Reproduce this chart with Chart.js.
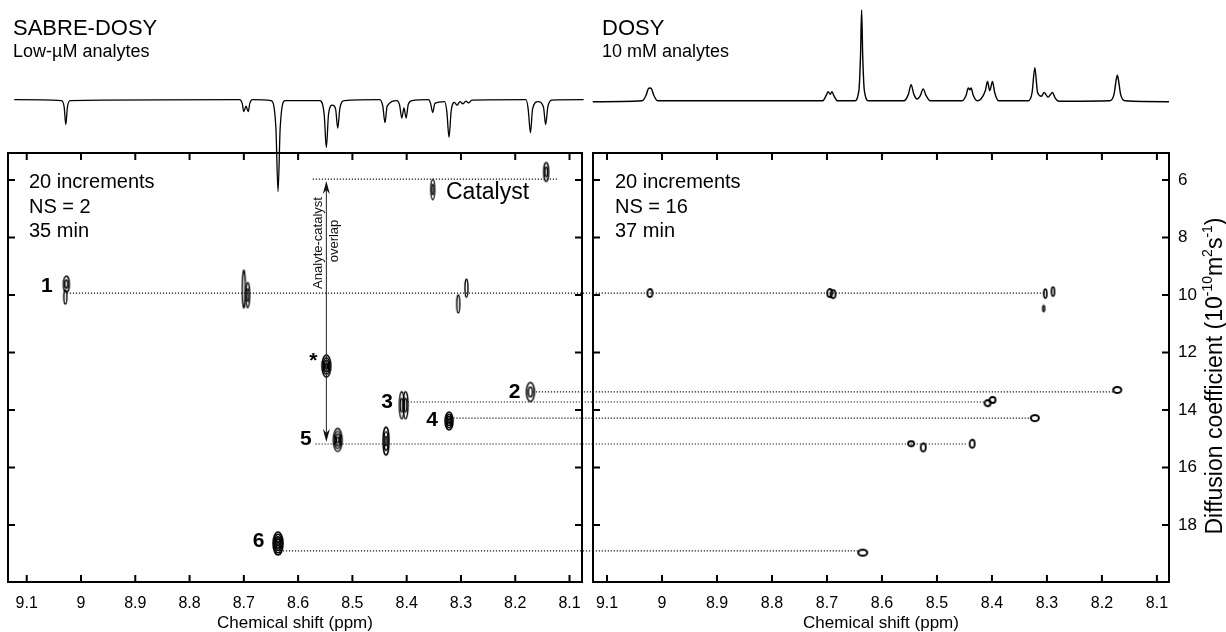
<!DOCTYPE html>
<html>
<head>
<meta charset="utf-8">
<script src="https://cdn.jsdelivr.net/npm/chart.js@4.4.1/dist/chart.umd.min.js"></script>
<style>
  body { margin: 0; background: #fff; }
  #wrap { position: relative; width: 1226px; height: 632px; }
  #wrap canvas { position: absolute; left: 0; top: 0; }
</style>
</head>
<body>
<div id="wrap">
  <canvas id="dosyL" width="1226" height="632"></canvas>
  <canvas id="dosyR" width="1226" height="632"></canvas>
  <canvas id="specL" width="1226" height="632"></canvas>
  <canvas id="specR" width="1226" height="632"></canvas>
</div>
<script>
// axis ticks
const ppmTicks = [9.1, 9, 8.9, 8.8, 8.7, 8.6, 8.5, 8.4, 8.3, 8.2, 8.1];
const diffTicks = [6, 8, 10, 12, 14, 16, 18];

// 1D traces above the panels (ppm, relative intensity)
const sabrePpm = [9.123, 9.036, 9.031, 9.028, 9.025, 9.020, 8.708, 8.703, 8.700, 8.696, 8.692, 8.689, 8.684,
  8.650, 8.641, 8.637, 8.633, 8.624, 8.560, 8.552, 8.548, 8.544, 8.537, 8.531, 8.527, 8.523, 8.515,
  8.450, 8.444, 8.440, 8.436, 8.418, 8.413, 8.409, 8.405, 8.401, 8.397, 8.390, 8.360, 8.356, 8.352, 8.348,
  8.330, 8.326, 8.322, 8.318, 8.312, 8.307, 8.302, 8.296, 8.291, 8.286, 8.280, 8.180, 8.176, 8.172, 8.168,
  8.158, 8.148, 8.144, 8.140, 8.133, 8.074];
const sabreInt = [0, -0.01, -0.08, -0.27, -0.08, -0.01, 0, -0.04, -0.13, -0.07, -0.13, -0.04, 0,
  -0.01, -0.3, -1.0, -0.3, -0.01, -0.01, -0.16, -0.52, -0.16, -0.06, -0.1, -0.31, -0.09, -0.01,
  0, -0.07, -0.25, -0.07, -0.01, -0.06, -0.2, -0.09, -0.2, -0.05, -0.01, 0, -0.04, -0.14, -0.04,
  -0.02, -0.13, -0.41, -0.12, -0.03, -0.06, -0.02, -0.045, -0.015, -0.035, -0.005, 0, -0.11, -0.36, -0.1,
  -0.02, -0.08, -0.27, -0.08, -0.005, 0];

const dosyPpm = [9.126, 9.036, 9.029, 9.025, 9.022, 9.019, 9.015, 9.008, 8.708, 8.702, 8.698, 8.694, 8.691,
  8.687, 8.681, 8.650, 8.642, 8.639, 8.637, 8.635, 8.632, 8.624, 8.560, 8.552, 8.547, 8.542, 8.536, 8.530,
  8.525, 8.520, 8.512, 8.454, 8.447, 8.443, 8.440, 8.438, 8.434, 8.427, 8.420, 8.412, 8.408, 8.404, 8.399,
  8.395, 8.388, 8.334, 8.327, 8.322, 8.317, 8.310, 8.305, 8.298, 8.290, 8.285, 8.278, 8.186, 8.178, 8.174,
  8.172, 8.170, 8.166, 8.158, 8.078];
const dosyInt = [0, 0.01, 0.07, 0.14, 0.15, 0.14, 0.07, 0.01, 0.01, 0.06, 0.11, 0.08, 0.11,
  0.06, 0.01, 0.01, 0.12, 0.5, 1.0, 0.5, 0.12, 0.01, 0.01, 0.08, 0.185, 0.08, 0.03, 0.07,
  0.14, 0.07, 0.01, 0.01, 0.07, 0.15, 0.13, 0.15, 0.07, 0.01, 0.03, 0.12, 0.22, 0.12, 0.22,
  0.1, 0.01, 0.01, 0.1, 0.37, 0.1, 0.06, 0.1, 0.05, 0.1, 0.04, 0.005, 0.01, 0.08, 0.24,
  0.29, 0.24, 0.08, 0.01, 0];

// cross peaks (ppm, diffusion coefficient)
const sabreSpotPpm = [9.027, 9.029, 8.700, 8.693, 8.305, 8.290, 8.352, 8.143, 8.548, 8.172, 8.409, 8.402, 8.322, 8.527, 8.438, 8.637];
const sabreSpotD = [9.62, 10.07, 9.79, 10.0, 10.31, 9.76, 6.33, 5.72, 12.47, 13.37, 13.83, 13.83, 14.38, 15.04, 15.08, 18.64];
const dosySpotPpm = [9.022, 8.695, 8.689, 8.303, 8.289, 8.306, 8.172, 8.408, 8.399, 8.322, 8.547, 8.525, 8.436, 8.635];
const dosySpotD = [9.93, 9.93, 9.97, 9.95, 9.88, 10.47, 13.30, 13.76, 13.65, 14.28, 15.17, 15.30, 15.17, 18.96];

// dotted guides from the SABRE panel to the DOSY panel
const guideD = [9.93, 13.37, 13.72, 14.28, 15.18, 18.90];
const guideFromPpm = [9.026, 8.162, 8.398, 8.314, 8.568, 8.628];
const guideToPpm = [8.305, 8.180, 8.412, 8.329, 8.445, 8.644];
const catalystD = 5.97;
const catalystFromPpm = 8.573;
const catalystToPpm = 8.120;

// compound labels
const peakLabels = ['1', '*', '2', '3', '4', '5', '6'];
const peakLabelPpm = [9.063, 8.572, 8.201, 8.436, 8.353, 8.586, 8.673];
const peakLabelD = [9.90, 12.50, 13.57, 13.93, 14.56, 15.22, 18.77];

// overlap arrow
const arrowPpm = 8.548;
const arrowFromD = 6.03;
const arrowToD = 15.11;
const overlapTextD = 8.19;

// ---- styles ----
const FONT = "'Liberation Sans', Arial, sans-serif";
Chart.defaults.font.family = FONT;
Chart.defaults.color = '#000';

// [width, height, contour rings, line width]
const spotShapes = {
  k1: [6, 16, 2, 1.4], k1t: [3, 14, 1, 1.4], thin: [3, 38, 1, 1.4], b: [4, 25, 2, 1.3], c: [3, 18, 1, 1.4],
  cat: [4, 20, 2, 1.3], cat2: [5, 19, 2, 1.4], star: [9, 22, 4, 1.5], two: [8, 19, 2, 1.5],
  three: [5, 27, 2, 1.3], four: [8, 18, 4, 1.6], five: [9, 23, 4, 1.3], f2: [6, 28, 3, 1.4], six: [10, 23, 5, 1.6],
  rs: [5, 8, 1, 1.8], rt: [3, 9, 1, 1.7], rd: [2, 6, 1, 1.5], ro: [8, 6, 1, 2], rq: [6, 6, 1, 1.9],
  rp: [6, 5, 1, 1.9], rw: [9, 6, 1, 2]
};
const sabreSpotKind = ['k1', 'k1t', 'thin', 'b', 'c', 'c', 'cat', 'cat2', 'star', 'two', 'three', 'three', 'four', 'five', 'f2', 'six'];
const dosySpotKind = ['rs', 'rs', 'rs', 'rt', 'rt', 'rd', 'ro', 'rq', 'rq', 'ro', 'rp', 'rs', 'rs', 'rw'];

function makeSpot([w, h, rings, lw]) {
  const c = document.createElement('canvas');
  c.width = Math.ceil(w + lw + 2);
  c.height = Math.ceil(h + lw + 2);
  const g = c.getContext('2d');
  g.strokeStyle = '#000';
  g.lineWidth = lw;
  for (let k = rings; k >= 1; k--) {
    g.beginPath();
    g.ellipse(c.width / 2, c.height / 2, Math.max(w / 2 * k / rings, 0.5), Math.max(h / 2 * k / rings, 0.5), 0, 0, Math.PI * 2);
    g.stroke();
  }
  return c;
}
const spotImg = {};
Object.keys(spotShapes).forEach(k => { spotImg[k] = makeSpot(spotShapes[k]); });

function text(ctx, s, x, y, size, bold, align) {
  ctx.font = (bold ? 'bold ' : '') + size + 'px ' + FONT;
  ctx.textAlign = align || 'left';
  ctx.textBaseline = 'alphabetic';
  ctx.fillStyle = '#000';
  ctx.fillText(s, x, y);
}

const framePlugin = {
  id: 'frame',
  afterDatasetsDraw(chart) {
    const { ctx, chartArea: a, scales: { x, y } } = chart;
    ctx.save();
    ctx.strokeStyle = '#000';
    ctx.lineWidth = 2;
    ctx.strokeRect(a.left, a.top, a.right - a.left, a.bottom - a.top);
    ctx.beginPath();
    ppmTicks.forEach(v => {
      const px = x.getPixelForValue(v);
      ctx.moveTo(px, a.top); ctx.lineTo(px, a.top + 7);
      ctx.moveTo(px, a.bottom); ctx.lineTo(px, a.bottom - 7);
    });
    diffTicks.forEach(v => {
      const py = y.getPixelForValue(v);
      ctx.moveTo(a.left, py); ctx.lineTo(a.left + 7, py);
      ctx.moveTo(a.right, py); ctx.lineTo(a.right - 7, py);
    });
    ctx.stroke();
    ctx.restore();
  }
};

function guideSet(points) {
  return {
    data: points, showLine: true, pointRadius: 0, clip: false,
    borderColor: '#111', borderWidth: 1.2, borderDash: [1.2, 1.8]
  };
}

function xScale(min, max) {
  return {
    type: 'linear', reverse: true, min, max,
    afterBuildTicks: s => { s.ticks = ppmTicks.map(v => ({ value: v })); },
    afterFit: s => { s.height = 50; },
    grid: { display: false }, border: { display: false },
    ticks: { padding: 4, font: { size: 16 }, color: '#000', autoSkip: false, maxRotation: 0, callback: v => String(v) },
    title: { display: true, text: 'Chemical shift (ppm)', font: { size: 17 }, color: '#000', padding: { top: 0, bottom: -2 } }
  };
}

const baseOpts = {
  responsive: false, animation: false, events: [],
  plugins: { legend: { display: false }, tooltip: { enabled: false } }
};

// left: SABRE-DOSY panel
const leftSets = guideFromPpm.map((p, i) => guideSet([{ x: p, y: guideD[i] }, { x: 8.0568, y: guideD[i] }]));
leftSets.push(guideSet([{ x: catalystFromPpm, y: catalystD }, { x: catalystToPpm, y: catalystD }]));
leftSets.push({
  data: sabreSpotPpm.map((p, i) => ({ x: p, y: sabreSpotD[i] })),
  pointStyle: sabreSpotKind.map(k => spotImg[k]), pointRadius: 3, clip: false
});

new Chart(document.getElementById('dosyL'), {
  type: 'scatter',
  data: { datasets: leftSets },
  options: {
    ...baseOpts,
    layout: { padding: { left: 8, right: 644, top: 153, bottom: 0 } },
    scales: {
      x: xScale(8.077, 9.1345),
      y: { type: 'linear', reverse: true, min: 5.06, max: 19.98, display: false }
    }
  },
  plugins: [framePlugin, {
    id: 'sabreNotes',
    afterDraw(chart) {
      const { ctx, chartArea: a, scales: { x, y } } = chart;
      ctx.save();
      text(ctx, '20 increments', a.left + 21, a.top + 35, 20);
      text(ctx, 'NS = 2', a.left + 21, a.top + 60, 20);
      text(ctx, '35 min', a.left + 21, a.top + 84, 20);
      text(ctx, 'Catalyst', x.getPixelForValue(8.3276), y.getPixelForValue(6.66), 23);
      peakLabels.forEach((s, i) => {
        text(ctx, s, x.getPixelForValue(peakLabelPpm[i]), y.getPixelForValue(peakLabelD[i]), 21, true, 'center');
      });
      // overlap arrow
      const ax = x.getPixelForValue(arrowPpm);
      const y1 = y.getPixelForValue(arrowFromD);
      const y2 = y.getPixelForValue(arrowToD);
      ctx.strokeStyle = '#222';
      ctx.fillStyle = '#111';
      ctx.lineWidth = 1;
      ctx.beginPath(); ctx.moveTo(ax, y1 + 6); ctx.lineTo(ax, y2 - 6); ctx.stroke();
      const head = (tip, dir) => {
        ctx.beginPath();
        ctx.moveTo(ax, tip);
        ctx.lineTo(ax - 3.5, tip - dir * 13);
        ctx.lineTo(ax, tip - dir * 9);
        ctx.lineTo(ax + 3.5, tip - dir * 13);
        ctx.closePath();
        ctx.fill();
      };
      head(y1, -1);
      head(y2, 1);
      const ty = y.getPixelForValue(overlapTextD);
      ctx.font = '13px ' + FONT;
      ctx.textAlign = 'center';
      ctx.textBaseline = 'middle';
      ctx.save(); ctx.translate(ax - 8, ty); ctx.rotate(-Math.PI / 2); ctx.fillText('Analyte-catalyst', 0, 0); ctx.restore();
      ctx.save(); ctx.translate(ax + 8, ty - 2); ctx.rotate(-Math.PI / 2); ctx.fillText('overlap', 0, 0); ctx.restore();
      ctx.restore();
    }
  }]
});

// right: conventional DOSY panel
const rightSets = guideToPpm.map((p, i) => guideSet([{ x: 9.126, y: guideD[i] }, { x: p, y: guideD[i] }]));
rightSets.push({
  data: dosySpotPpm.map((p, i) => ({ x: p, y: dosySpotD[i] })),
  pointStyle: dosySpotKind.map(k => spotImg[k]), pointRadius: 3, clip: false
});

new Chart(document.getElementById('dosyR'), {
  type: 'scatter',
  data: { datasets: rightSets },
  options: {
    ...baseOpts,
    layout: { padding: { left: 593, right: 0, top: 153, bottom: 0 } },
    scales: {
      x: xScale(8.078, 9.1255),
      y: {
        type: 'linear', position: 'right', reverse: true, min: 5.06, max: 19.98,
        afterBuildTicks: s => { s.ticks = diffTicks.map(v => ({ value: v })); },
        afterFit: s => { s.width = 57; },
        grid: { display: false }, border: { display: false },
        ticks: { padding: 1, font: { size: 17 }, color: '#000', autoSkip: false }
      }
    }
  },
  plugins: [framePlugin, {
    id: 'dosyNotes',
    afterDraw(chart) {
      const { ctx, chartArea: a } = chart;
      ctx.save();
      text(ctx, '20 increments', a.left + 22, a.top + 35, 20);
      text(ctx, 'NS = 16', a.left + 22, a.top + 60, 20);
      text(ctx, '37 min', a.left + 22, a.top + 84, 20);
      // axis title with superscripts
      const parts = [['Diffusion coefficient (10', 0], ['-10', 1], ['m', 0], ['2', 1], ['s', 0], ['-1', 1], [')', 0]];
      const big = '23px ' + FONT, small = '14px ' + FONT;
      let total = 0;
      parts.forEach(([t, s]) => { ctx.font = s ? small : big; total += ctx.measureText(t).width; });
      ctx.translate(1214, 376);
      ctx.rotate(-Math.PI / 2);
      ctx.fillStyle = '#000';
      ctx.textAlign = 'left';
      ctx.textBaseline = 'alphabetic';
      let px = -total / 2;
      parts.forEach(([t, s]) => {
        ctx.font = s ? small : big;
        ctx.fillText(t, px, s ? -2 : 8);
        px += ctx.measureText(t).width;
      });
      ctx.restore();
    }
  }]
});

// 1D traces
function specChart(id, ppm, inten, pad, xmin, xmax, title, sub, lw) {
  return new Chart(document.getElementById(id), {
    type: 'line',
    data: {
      datasets: [{
        data: ppm.map((p, i) => ({ x: p, y: inten[i] })),
        borderColor: '#000', borderWidth: lw, pointRadius: 0, clip: false,
        cubicInterpolationMode: 'monotone'
      }]
    },
    options: {
      ...baseOpts,
      layout: { padding: pad },
      scales: {
        x: { type: 'linear', reverse: true, min: xmin, max: xmax, display: false },
        y: { type: 'linear', min: -1.1, max: 1.0, display: false }
      }
    },
    plugins: [{
      id: 'heading',
      afterDraw(chart) {
        const { ctx, chartArea: a } = chart;
        ctx.save();
        text(ctx, title, a.left + (id === 'specL' ? 5 : 9), 35, 22);
        text(ctx, sub, a.left + (id === 'specL' ? 5 : 9), 57, 18);
        ctx.restore();
      }
    }]
  });
}

specChart('specL', sabrePpm, sabreInt, { left: 8, right: 644, top: 8, bottom: 431.4 }, 8.077, 9.1345, 'SABRE-DOSY', 'Low-µM analytes', 1.3);
specChart('specR', dosyPpm, dosyInt, { left: 593, right: 57, top: 10, bottom: 429.4 }, 8.078, 9.1255, 'DOSY', '10 mM analytes', 1.4);
</script>
</body>
</html>
